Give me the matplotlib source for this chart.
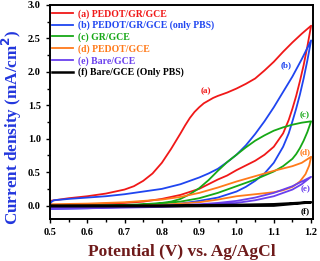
import numpy as np
import matplotlib.pyplot as plt

plt.rcParams['font.family'] = ['Liberation Serif', 'DejaVu Serif']
plt.rcParams['font.weight'] = 'bold'

# (a) PEDOT/GR/GCE
a_fx = [0.5, 0.55, 0.6, 0.65, 0.7, 0.725, 0.75, 0.775, 0.8, 0.825, 0.85, 0.8625, 0.875,
        0.8875, 0.9, 0.9125, 0.925, 0.9375, 0.95, 0.975, 1.0, 1.025, 1.05, 1.075, 1.1,
        1.125, 1.15, 1.175, 1.2]
a_fy = [0.07, 0.11, 0.14, 0.18, 0.24, 0.29, 0.37, 0.48, 0.64, 0.85, 1.08, 1.20, 1.31,
        1.40, 1.47, 1.53, 1.57, 1.61, 1.64, 1.69, 1.75, 1.82, 1.90, 2.02, 2.15,
        2.30, 2.44, 2.57, 2.69]
a_rx = [1.2, 1.19, 1.18, 1.17, 1.16, 1.15, 1.14, 1.125, 1.1, 1.075, 1.05, 1.025, 1.0, 0.975,
        0.95, 0.925, 0.9, 0.85, 0.8, 0.75, 0.7, 0.6, 0.5]
a_ry = [2.69, 2.38, 2.10, 1.86, 1.64, 1.45, 1.28, 1.08, 0.88, 0.76, 0.67, 0.60, 0.53, 0.45,
        0.39, 0.32, 0.25, 0.16, 0.10, 0.06, 0.04, 0.02, 0.0]

# (b) PEDOT/GR/GCE (only PBS)
b_fx = [0.5, 0.503, 0.51, 0.55, 0.6, 0.65, 0.7, 0.75, 0.8, 0.85, 0.875, 0.9, 0.925, 0.95,
        0.975, 1.0, 1.025, 1.05, 1.075, 1.1, 1.125, 1.15, 1.175, 1.2]
b_fy = [-0.04, 0.05, 0.08, 0.10, 0.12, 0.14, 0.17, 0.21, 0.25, 0.32, 0.37, 0.42, 0.48, 0.55,
        0.65, 0.76, 0.90, 1.07, 1.26, 1.47, 1.70, 1.93, 2.19, 2.47]
b_rx = [1.2, 1.19, 1.18, 1.17, 1.16, 1.15, 1.14, 1.125, 1.1, 1.075, 1.05, 1.025, 1.0, 0.95,
        0.9, 0.85, 0.8, 0.7, 0.6, 0.5]
b_ry = [2.47, 2.17, 1.90, 1.66, 1.45, 1.26, 1.08, 0.88, 0.64, 0.48, 0.37, 0.28, 0.21, 0.12,
        0.07, 0.03, 0.0, -0.02, -0.04, -0.05]

# (c) GR/GCE
c_fx = [0.5, 0.6, 0.7, 0.75, 0.8, 0.825, 0.85, 0.875, 0.9, 0.925, 0.95, 0.975, 1.0, 1.025,
        1.05, 1.075, 1.1, 1.125, 1.15, 1.175, 1.2]
c_fy = [0.0, 0.0, 0.01, 0.02, 0.04, 0.06, 0.10, 0.17, 0.26, 0.38, 0.52, 0.65, 0.76, 0.87,
        0.97, 1.05, 1.12, 1.17, 1.21, 1.24, 1.26]
c_rx = [1.2, 1.19, 1.18, 1.17, 1.16, 1.15, 1.125, 1.1, 1.075, 1.05, 1.025, 1.0, 0.95, 0.9,
        0.85, 0.8, 0.7, 0.6, 0.5]
c_ry = [1.26, 1.10, 0.97, 0.86, 0.77, 0.70, 0.59, 0.51, 0.45, 0.39, 0.34, 0.29, 0.19, 0.11,
        0.06, 0.03, 0.0, -0.01, -0.02]

# (d) PEDOT/GCE
d_fx = [0.5, 0.6, 0.7, 0.8, 0.85, 0.9, 0.95, 1.0, 1.05, 1.1, 1.15, 1.175, 1.2]
d_fy = [0.02, 0.03, 0.05, 0.09, 0.13, 0.19, 0.27, 0.36, 0.44, 0.52, 0.59, 0.64, 0.73]
d_rx = [1.2, 1.195, 1.185, 1.17, 1.15, 1.125, 1.1, 1.05, 1.0, 0.95, 0.9, 0.8, 0.7, 0.5]
d_ry = [0.73, 0.60, 0.47, 0.36, 0.28, 0.23, 0.20, 0.17, 0.14, 0.09, 0.05, 0.01, -0.01, -0.02]

# (e) Bare/GCE
e_fx = [0.5, 0.7, 0.8, 0.9, 0.95, 1.0, 1.05, 1.1, 1.15, 1.2]
e_fy = [-0.03, -0.02, 0.0, 0.02, 0.04, 0.07, 0.12, 0.19, 0.29, 0.43]
e_rx = [1.2, 1.175, 1.15, 1.1, 1.05, 1.0, 0.9, 0.8, 0.7, 0.5]
e_ry = [0.43, 0.32, 0.24, 0.14, 0.08, 0.04, 0.0, -0.02, -0.03, -0.05]

# (f) Bare/GCE (Only PBS)
f_fx = [0.5, 0.8, 1.0, 1.1, 1.2]
f_fy = [0.0, 0.0, 0.01, 0.02, 0.05]
f_rx = [1.2, 1.1, 0.8, 0.5]
f_ry = [0.05, 0.0, -0.01, -0.01]

labels = ['(a) PEDOT/GR/GCE', '(b) PEDOT/GR/GCE (only PBS)', '(c) GR/GCE',
          '(d) PEDOT/GCE', '(e) Bare/GCE', '(f) Bare/GCE (Only PBS)']
tags = ['(a)', '(b)', '(c)', '(d)', '(e)', '(f)']
tag_x = [0.917, 1.134, 1.184, 1.184, 1.184, 1.184]
tag_y = [1.71, 2.10, 1.35, 0.80, 0.24, -0.09]
colors = ['#f01818', '#1f45f0', '#16a816', '#ff7a1a', '#6a40ee', '#000000']

curves = [(a_fx, a_fy, a_rx, a_ry), (b_fx, b_fy, b_rx, b_ry), (c_fx, c_fy, c_rx, c_ry),
          (d_fx, d_fy, d_rx, d_ry), (e_fx, e_fy, e_rx, e_ry), (f_fx, f_fy, f_rx, f_ry)]

fig = plt.figure(figsize=(3.2, 2.61), dpi=100)
ax = fig.add_axes([0.156, 0.161, 0.822, 0.82])

for (fx, fy, rx, ry), lab, col in zip(curves, labels, colors):
    xs = np.concatenate([fx, rx])
    ys = np.concatenate([fy, ry])
    lw = 1.8 if col == '#000000' else 1.3
    ax.plot(xs, ys, color=col, lw=lw, label=lab)

for t, tx, ty, col in zip(tags, tag_x, tag_y, colors):
    ax.text(tx, ty, t, color=col, fontsize=6.5, fontweight='bold', ha='center', va='center')

ax.set_xlim(0.5, 1.205)
ax.set_ylim(-0.2, 3.0)
ax.set_xticks([0.5, 0.6, 0.7, 0.8, 0.9, 1.0, 1.1, 1.2])
ax.set_yticks([0.0, 0.5, 1.0, 1.5, 2.0, 2.5, 3.0])
ax.set_xticks(np.arange(0.55, 1.2, 0.1), minor=True)
ax.set_yticks(np.arange(-0.25, 3.0, 0.5)[1:], minor=True)
ax.tick_params(which='both', direction='out', labelsize=7.5, width=1.0)
ax.tick_params(which='major', length=3)
ax.tick_params(which='minor', length=2)
for lbl in ax.get_xticklabels() + ax.get_yticklabels():
    lbl.set_fontweight('bold')
for s in ax.spines.values():
    s.set_linewidth(1.4)

ax.set_xlabel('Potential (V) vs. Ag/AgCl', color='#6e1a1a', fontsize=12.5,
              fontweight='bold', labelpad=5)
ax.set_ylabel('Current density (mA/cm$^\\mathbf{2}$)', color='#2236dd', fontsize=12.3,
              fontweight='bold')
ax.yaxis.set_label_coords(-0.1, 0.43)

leg = ax.legend(loc='upper left', bbox_to_anchor=(0.0, 0.99), frameon=False,
                handlelength=2.2, handletextpad=0.5, labelspacing=0.22,
                borderaxespad=0.0, borderpad=0.2,
                prop={'weight': 'bold', 'size': 7})
for txt, col in zip(leg.get_texts(), colors):
    txt.set_color(col)

fig.savefig('out.png', dpi=100)
